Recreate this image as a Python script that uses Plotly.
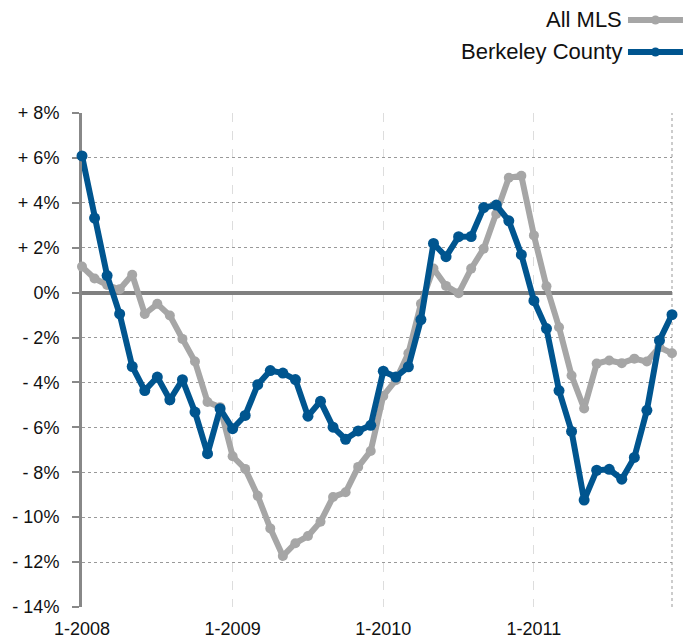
import plotly.graph_objects as go

years = [2008, 2009, 2010, 2011]
months = [f"{m}-{y}" for y in years for m in range(1, 13)]

all_mls = [1.16, 0.63, 0.34, 0.15, 0.8, -0.95, -0.5, -1.02, -2.06, -3.07, -4.87, -5.1,
           -7.29, -7.85, -9.05, -10.5, -11.73, -11.16, -10.84, -10.2, -9.1, -8.89, -7.76, -7.05,
           -4.6, -3.9, -2.7, -0.5, 1.07, 0.3, -0.03, 1.07, 1.96, 3.5, 5.12, 5.2,
           2.55, 0.28, -1.54, -3.69, -5.16, -3.16, -3.02, -3.14, -2.94, -3.07, -2.43, -2.7]

berkeley = [6.09, 3.32, 0.76, -0.95, -3.29, -4.36, -3.76, -4.77, -3.88, -5.32, -7.17, -5.17,
            -6.06, -5.47, -4.1, -3.47, -3.58, -3.87, -5.5, -4.84, -5.99, -6.53, -6.16, -5.91,
            -3.5, -3.76, -3.3, -1.2, 2.19, 1.6, 2.49, 2.5, 3.79, 3.9, 3.2, 1.69,
            -0.36, -1.6, -4.36, -6.18, -9.24, -7.91, -7.87, -8.31, -7.34, -5.24, -2.13, -0.98]

x_ticks = ["1-2008", "1-2009", "1-2010", "1-2011"]
y_ticks = [-14, -12, -10, -8, -6, -4, -2, 0, 2, 4, 6, 8]
y_labels = ["- 14%", "- 12%", "- 10%", "- 8%", "- 6%", "- 4%", "- 2%", "0%",
            "+ 2%", "+ 4%", "+ 6%", "+ 8%"]

GRAY = "#A6A6A6"
BLUE = "#00558F"
FONT = "Liberation Sans, Arial, Helvetica, sans-serif"

fig = go.Figure()
fig.add_trace(go.Scatter(x=months, y=all_mls, mode="lines+markers", name="All MLS",
                         line=dict(color=GRAY, width=6), marker=dict(color=GRAY, size=10),
                         showlegend=False, cliponaxis=False))
fig.add_trace(go.Scatter(x=months, y=berkeley, mode="lines+markers", name="Berkeley County",
                         line=dict(color=BLUE, width=6), marker=dict(color=BLUE, size=11),
                         showlegend=False, cliponaxis=False))

# page body has an 8px margin, so the figure is 8px smaller and margins shifted
fig.update_layout(
    width=687, height=630,
    margin=dict(l=74, r=23, t=105, b=31, autoexpand=False),
    paper_bgcolor="white", plot_bgcolor="white",
    font=dict(family=FONT, size=18, color="#111111"),
    xaxis=dict(type="category", range=[0, 47], tickmode="array", tickvals=x_ticks,
               ticktext=x_ticks, showgrid=True, gridcolor="#DDDDDD", griddash="dash",
               gridwidth=1, showline=False, zeroline=False, ticks="",
               ticklabelstandoff=9, layer="below traces", automargin=False),
    yaxis=dict(range=[-14, 8], tickmode="array", tickvals=y_ticks, ticktext=y_labels,
               showgrid=True, gridcolor="#999999", griddash="dot", gridwidth=1,
               zeroline=True, zerolinecolor="#808080", zerolinewidth=4,
               showline=True, linecolor="#888888", linewidth=3,
               ticks="outside", ticklen=7, tickcolor="#888888", tickwidth=2,
               ticklabelstandoff=9, layer="below traces", automargin=False),
    shapes=[
        dict(type="line", xref="paper", yref="paper", x0=1, x1=1, y0=0, y1=1,
             line=dict(color="#999999", width=1, dash="dot"), layer="below"),
        dict(type="line", xref="paper", yref="paper", x0=0.9254, x1=1.0186,
             y0=1.1883, y1=1.1883, line=dict(color=GRAY, width=6)),
        dict(type="line", xref="paper", yref="paper", x0=0.9254, x1=1.0186,
             y0=1.1235, y1=1.1235, line=dict(color=BLUE, width=6)),
        dict(type="circle", xref="paper", yref="paper", xsizemode="pixel", ysizemode="pixel",
             xanchor=0.972, yanchor=1.1883, x0=-4.5, x1=4.5, y0=-4.5, y1=4.5,
             fillcolor=GRAY, line=dict(width=0)),
        dict(type="circle", xref="paper", yref="paper", xsizemode="pixel", ysizemode="pixel",
             xanchor=0.972, yanchor=1.1235, x0=-4.5, x1=4.5, y0=-4.5, y1=4.5,
             fillcolor=BLUE, line=dict(width=0)),
    ],
    annotations=[
        dict(text="All MLS", xref="paper", yref="paper", x=0.9186, y=1.1883,
             xanchor="right", yanchor="middle", showarrow=False,
             font=dict(size=22, family=FONT, color="#111111")),
        dict(text="Berkeley County", xref="paper", yref="paper", x=0.9186, y=1.1235,
             xanchor="right", yanchor="middle", showarrow=False,
             font=dict(size=22, family=FONT, color="#111111")),
    ],
)

fig.write_html("out.html")
